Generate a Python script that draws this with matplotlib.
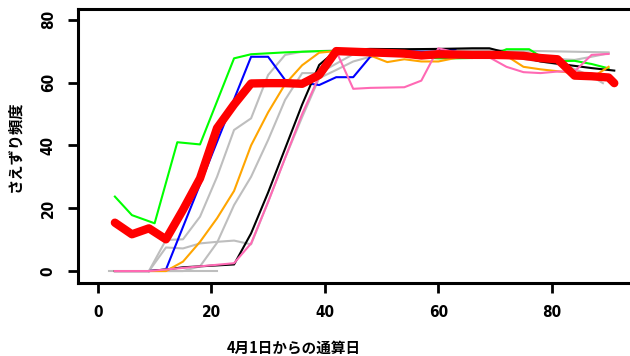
# さえずり頻度の季節変化
import matplotlib.pyplot as plt

# 灰色の個体
gray1_day = [2, 5, 8, 11, 14, 17, 21]
gray1_val = [0, 0, 0, 0, 0, 0, 0]
gray2_day = [9, 12, 15, 18, 21, 24, 27, 30, 33, 36, 39, 42, 45, 48, 51, 54, 60, 66, 72, 75, 78, 81, 84, 87, 90]
gray2_val = [0, 7.5, 7.2, 8.8, 9.3, 9.7, 8.5, 22, 36, 49, 61.4, 64, 66.7, 68.2, 69.5, 70, 70.2, 70.3, 70, 69.7, 68, 67.5, 67.2, 68.2, 69.3]
gray3_day = [9, 12, 15, 18, 21, 24, 27, 30, 33, 36, 39, 42, 48, 54, 60, 66, 72, 78, 84, 90]
gray3_val = [0, 9.9, 10.1, 17.3, 30, 44.9, 48.6, 62.4, 68.8, 69.8, 70, 70.3, 70.5, 70.6, 70.6, 70.5, 70.2, 70, 69.8, 69.6]
gray4_day = [9, 12, 15, 18, 21, 24, 27, 30, 33, 36, 39, 42, 45, 48, 54, 60, 66, 72, 75, 78, 81, 84, 87, 89]
gray4_val = [0, 0, 0, 1.5, 9, 21, 30, 41.7, 54.5, 63, 63, 66, 69, 70, 70.3, 70.4, 70.4, 70, 67.5, 66.7, 65.8, 64.3, 62, 59.8]

green_day = [3, 6, 10, 14, 18, 24, 27, 33, 39, 45, 51, 54, 57, 60, 63, 66, 69, 72, 76, 78, 81, 84, 87, 90]
green_val = [23.7, 17.8, 15.2, 41, 40.3, 67.7, 69, 69.6, 70, 70, 70, 69.5, 68, 67.7, 67.7, 67.8, 68.2, 70.6, 70.6, 68.3, 66.8, 66.9, 65.9, 64.5]

blue_day = [3, 6, 9, 12, 27, 30, 33, 39, 42, 45, 48, 51, 54, 57, 60, 63]
blue_val = [0, 0, 0, 0.5, 68.2, 68.2, 60.8, 59.2, 61.7, 61.7, 68.2, 70, 70, 69.8, 69.8, 70.6]

black_day = [3, 6, 9, 12, 15, 18, 21, 24, 27, 30, 33, 36, 39, 42, 45, 48, 54, 60, 66, 69, 72, 75, 78, 81, 84, 87, 91]
black_val = [0, 0, 0, 0.5, 1.2, 1.5, 1.8, 2.1, 12, 25, 39, 53, 65.6, 70.2, 70.5, 70.7, 70.6, 70.7, 70.9, 70.9, 69.5, 68, 66.7, 66, 65.3, 64.6, 63.8]

orange_day = [3, 6, 9, 12, 15, 18, 21, 24, 27, 30, 33, 36, 39, 42, 45, 48, 51, 54, 57, 60, 63, 66, 69, 72, 75, 78, 81, 84, 87, 90]
orange_val = [0, 0, 0, 0, 3, 9.3, 16.8, 25.5, 40, 50.5, 59.5, 65.5, 69.5, 70, 70, 68.6, 66.5, 67.4, 66.7, 66.7, 67.8, 69.3, 69, 68.5, 65, 64.2, 63.6, 63, 61.5, 65]

pink_day = [3, 6, 9, 12, 15, 18, 21, 24, 27, 30, 33, 36, 39, 42, 45, 48, 51, 54, 57, 60, 63, 66, 69, 72, 75, 78, 81, 84, 87, 90]
pink_val = [0, 0, 0, 0.5, 1, 1.5, 2, 2.5, 8.8, 22, 36, 50, 62, 70, 58, 58.3, 58.4, 58.5, 60.6, 70.9, 69.6, 69, 68, 65, 63.3, 63, 63.5, 63.5, 68.8, 69.1]

# 平均
red_day = [3, 6, 9, 12, 15, 18, 21, 24, 27, 30, 33, 36, 39, 42, 45, 48, 51, 54, 57, 60, 63, 66, 69, 72, 75, 78, 81, 84, 87, 90, 91]
red_val = [15.4, 11.7, 13.6, 10.1, 19.5, 29.5, 45.5, 53, 59.7, 59.8, 59.8, 59.6, 62.4, 70, 69.8, 69.6, 69.4, 69.2, 68.6, 69, 68.9, 68.8, 68.8, 68.7, 68.5, 67.8, 67.4, 62.2, 62, 61.6, 59.8]

plt.figure(figsize=(6.3, 3.56), dpi=100)
ax = plt.axes([78 / 630, 73 / 356, 555 / 630, 274 / 356])

lw = 1.5
plt.plot(gray1_day, gray1_val, color='#BEBEBE', lw=lw)
plt.plot(gray2_day, gray2_val, color='#BEBEBE', lw=lw)
plt.plot(gray3_day, gray3_val, color='#BEBEBE', lw=lw)
plt.plot(gray4_day, gray4_val, color='#BEBEBE', lw=lw)
plt.plot(green_day, green_val, color='#00FF00', lw=lw)
plt.plot(blue_day, blue_val, color='#0000FF', lw=lw)
plt.plot(black_day, black_val, color='black', lw=lw)
plt.plot(orange_day, orange_val, color='#FFA500', lw=lw)
plt.plot(pink_day, pink_val, color='#FF69B4', lw=lw)
plt.plot(red_day, red_val, color='#FF0000', lw=6, solid_capstyle='round', solid_joinstyle='round')

plt.xlim(-3.5, 94.3)
plt.ylim(-3.8, 83.4)

tickfont = dict(family=['Liberation Sans Narrow', 'DejaVu Sans'], stretch='condensed', weight='bold', size=11)
plt.xticks([0, 20, 40, 60, 80], **tickfont)
plt.yticks([0, 20, 40, 60, 80], **tickfont, rotation=90, va='center')
ax.tick_params(direction='out', length=7, width=2, pad=9)
for s in ax.spines.values():
    s.set_linewidth(2.2)

plt.xlabel('4月1日からの通算日', family=['Noto Sans CJK JP'], weight='bold', fontsize=10.5)
ax.xaxis.set_label_coords((294 - 78) / 555, -0.205)
plt.ylabel('さえずり頻度', family=['Noto Sans CJK JP'], weight='bold', fontsize=11)
ax.yaxis.set_label_coords(-(78 - 22) / 555, 0.5)

plt.savefig('out.png', dpi=100)
